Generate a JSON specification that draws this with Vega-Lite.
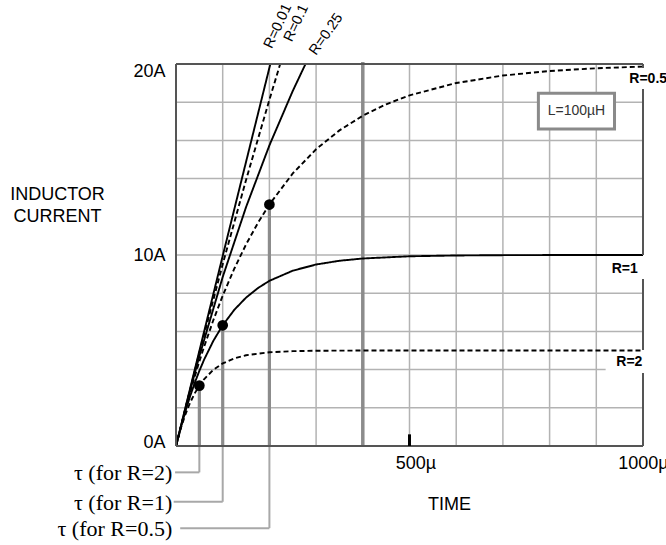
{
  "$schema": "https://vega.github.io/schema/vega-lite/v6.json",
  "width": 467,
  "height": 382,
  "autosize": {"type": "none"},
  "padding": {"left": 176, "top": 64, "right": 23, "bottom": 99},
  "background": "white",
  "config": {"view": {"stroke": null}},
  "datasets": {
    "curves": [
      {"R": "0.01", "t": 0, "I": 0}, {"R": "0.01", "t": 100, "I": 9.95}, {"R": "0.01", "t": 202, "I": 20},
      {"R": "0.1", "t": 0, "I": 0}, {"R": "0.1", "t": 50, "I": 4.877}, {"R": "0.1", "t": 100, "I": 9.516}, {"R": "0.1", "t": 150, "I": 13.929}, {"R": "0.1", "t": 200, "I": 18.127}, {"R": "0.1", "t": 223.1, "I": 20},
      {"R": "0.25", "t": 0, "I": 0}, {"R": "0.25", "t": 25, "I": 2.424}, {"R": "0.25", "t": 50, "I": 4.7}, {"R": "0.25", "t": 100, "I": 8.848}, {"R": "0.25", "t": 150, "I": 12.508}, {"R": "0.25", "t": 200, "I": 15.739}, {"R": "0.25", "t": 250, "I": 18.588}, {"R": "0.25", "t": 277.3, "I": 20},
      {"R": "0.5", "t": 0, "I": 0}, {"R": "0.5", "t": 10, "I": 0.975}, {"R": "0.5", "t": 20, "I": 1.903}, {"R": "0.5", "t": 30, "I": 2.786}, {"R": "0.5", "t": 40, "I": 3.625}, {"R": "0.5", "t": 50, "I": 4.424}, {"R": "0.5", "t": 60, "I": 5.184}, {"R": "0.5", "t": 80, "I": 6.594}, {"R": "0.5", "t": 100, "I": 7.869}, {"R": "0.5", "t": 125, "I": 9.294}, {"R": "0.5", "t": 150, "I": 10.553}, {"R": "0.5", "t": 175, "I": 11.662}, {"R": "0.5", "t": 200, "I": 12.642}, {"R": "0.5", "t": 250, "I": 14.27}, {"R": "0.5", "t": 300, "I": 15.538}, {"R": "0.5", "t": 350, "I": 16.524}, {"R": "0.5", "t": 400, "I": 17.293}, {"R": "0.5", "t": 450, "I": 17.892}, {"R": "0.5", "t": 500, "I": 18.358}, {"R": "0.5", "t": 600, "I": 19.004}, {"R": "0.5", "t": 700, "I": 19.396}, {"R": "0.5", "t": 800, "I": 19.634}, {"R": "0.5", "t": 900, "I": 19.778}, {"R": "0.5", "t": 1000, "I": 19.865},
      {"R": "1", "t": 0, "I": 0}, {"R": "1", "t": 10, "I": 0.952}, {"R": "1", "t": 20, "I": 1.813}, {"R": "1", "t": 30, "I": 2.592}, {"R": "1", "t": 40, "I": 3.297}, {"R": "1", "t": 50, "I": 3.935}, {"R": "1", "t": 60, "I": 4.512}, {"R": "1", "t": 80, "I": 5.507}, {"R": "1", "t": 100, "I": 6.321}, {"R": "1", "t": 125, "I": 7.135}, {"R": "1", "t": 150, "I": 7.769}, {"R": "1", "t": 175, "I": 8.262}, {"R": "1", "t": 200, "I": 8.647}, {"R": "1", "t": 250, "I": 9.179}, {"R": "1", "t": 300, "I": 9.502}, {"R": "1", "t": 350, "I": 9.698}, {"R": "1", "t": 400, "I": 9.817}, {"R": "1", "t": 500, "I": 9.933}, {"R": "1", "t": 600, "I": 9.975}, {"R": "1", "t": 700, "I": 9.991}, {"R": "1", "t": 800, "I": 9.997}, {"R": "1", "t": 1000, "I": 10},
      {"R": "2", "t": 0, "I": 0}, {"R": "2", "t": 10, "I": 0.906}, {"R": "2", "t": 20, "I": 1.648}, {"R": "2", "t": 30, "I": 2.256}, {"R": "2", "t": 40, "I": 2.753}, {"R": "2", "t": 50, "I": 3.161}, {"R": "2", "t": 60, "I": 3.494}, {"R": "2", "t": 80, "I": 3.991}, {"R": "2", "t": 100, "I": 4.323}, {"R": "2", "t": 125, "I": 4.59}, {"R": "2", "t": 150, "I": 4.751}, {"R": "2", "t": 200, "I": 4.908}, {"R": "2", "t": 250, "I": 4.966}, {"R": "2", "t": 300, "I": 4.988}, {"R": "2", "t": 400, "I": 4.998}, {"R": "2", "t": 600, "I": 5}, {"R": "2", "t": 800, "I": 5}, {"R": "2", "t": 1000, "I": 5}
    ],
    "gridV": [{"t": 100}, {"t": 200}, {"t": 300}, {"t": 500}, {"t": 600}, {"t": 700}, {"t": 800}, {"t": 900}],
    "gridH": [{"I": 2, "t2": 1000}, {"I": 4, "t2": 920}, {"I": 6, "t2": 1000}, {"I": 8, "t2": 1000}, {"I": 10, "t2": 1000}, {"I": 12, "t2": 1000}, {"I": 14, "t2": 1000}, {"I": 16, "t2": 1000}, {"I": 18, "t2": 1000}],
    "border": [
      {"t": 0, "t2": 0, "I": 0, "I2": 20},
      {"t": 0, "t2": 1000, "I": 20, "I2": 20},
      {"t": 0, "t2": 1000, "I": 0, "I2": 0},
      {"t": 1000, "t2": 1000, "I": 0, "I2": 3.82},
      {"t": 1000, "t2": 1000, "I": 5.03, "I2": 8.74},
      {"t": 1000, "t2": 1000, "I": 10, "I2": 18.69},
      {"t": 1000, "t2": 1000, "I": 19.79, "I2": 20}
    ],
    "tau": [
      {"label": "τ (for R=2)", "t": 50, "I": 3.161, "yLab": -1.38, "xLab": -8, "xCon": -2},
      {"label": "τ (for R=1)", "t": 100, "I": 6.321, "yLab": -2.92, "xLab": -8, "xCon": -5},
      {"label": "τ (for R=0.5)", "t": 200, "I": 12.642, "yLab": -4.3, "xLab": -8, "xCon": 9}
    ],
    "toplabels": [
      {"label": "R=0.01", "t": 205, "I": 20.77},
      {"label": "R=0.1", "t": 248, "I": 21.12},
      {"label": "R=0.25", "t": 300, "I": 20.42}
    ],
    "rlabels": [
      {"label": "R=0.5", "t": 970.7, "I": 19.02},
      {"label": "R=1", "t": 932.9, "I": 9.07},
      {"label": "R=2", "t": 942.8, "I": 4.19}
    ],
    "box": [{"label": "L=100µH", "t1": 776, "t2": 939, "I1": 16.6, "I2": 18.47, "tc": 857.5, "Ic": 17.53}]
  },
  "layer": [
    {
      "data": {"name": "curves"},
      "mark": {"type": "line", "color": "#000", "strokeWidth": 1.8, "opacity": 0},
      "encoding": {
        "x": {
          "field": "t", "type": "quantitative",
          "scale": {"domain": [0, 1000], "nice": false, "zero": false},
          "axis": {
            "values": [500, 1000],
            "labelExpr": "datum.value + 'µ'",
            "grid": false, "domain": false, "ticks": false, "tickSize": 0,
            "labelFlush": false,
            "labelPadding": 22,
            "labelBaseline": "alphabetic",
            "labelFont": "Liberation Sans", "labelFontSize": 18, "labelColor": "#000",
            "labelOffset": {"condition": {"test": "datum.value == 500", "value": 6}, "value": 0},
            "title": "TIME",
            "titleX": 273, "titleY": 63,
            "titleAlign": "center", "titleBaseline": "alphabetic",
            "titleFont": "Liberation Sans", "titleFontSize": 18, "titleFontWeight": "normal", "titleColor": "#000"
          }
        },
        "y": {
          "field": "I", "type": "quantitative",
          "scale": {"domain": [0, 20], "nice": false, "zero": false},
          "axis": {
            "values": [0, 10, 20],
            "labelExpr": "datum.value + 'A'",
            "grid": false, "domain": false, "ticks": false, "tickSize": 0,
            "labelPadding": 11,
            "labelBaseline": "middle",
            "labelFont": "Liberation Sans", "labelFontSize": 18, "labelColor": "#000",
            "labelOffset": {"condition": [{"test": "datum.value == 0", "value": -4}, {"test": "datum.value == 20", "value": 7}], "value": 0},
            "title": ["INDUCTOR", "CURRENT"],
            "titleAngle": 0,
            "titleX": -119, "titleY": 135,
            "titleAlign": "center", "titleBaseline": "alphabetic",
            "titleLineHeight": 22,
            "titleFont": "Liberation Sans", "titleFontSize": 18, "titleFontWeight": "normal", "titleColor": "#000"
          }
        },
        "detail": {"field": "R", "type": "nominal"}
      }
    },
    {
      "data": {"name": "gridV"},
      "mark": {"type": "rule", "color": "#b3b3b3", "strokeWidth": 1.5},
      "encoding": {
        "x": {"field": "t", "type": "quantitative"},
        "y": {"datum": 0, "type": "quantitative"},
        "y2": {"datum": 20}
      }
    },
    {
      "data": {"name": "gridH"},
      "mark": {"type": "rule", "color": "#b3b3b3", "strokeWidth": 1.5},
      "encoding": {
        "x": {"field": "t2", "type": "quantitative"},
        "x2": {"datum": 0},
        "y": {"field": "I", "type": "quantitative"}
      }
    },
    {
      "data": {"values": [{"t": 400}]},
      "mark": {"type": "rule", "color": "#8c8c8c", "strokeWidth": 3.5},
      "encoding": {
        "x": {"field": "t", "type": "quantitative"},
        "y": {"datum": 0, "type": "quantitative"},
        "y2": {"datum": 20.1}
      }
    },
    {
      "data": {"name": "tau"},
      "mark": {"type": "rule", "color": "#a8a8a8", "strokeWidth": 2},
      "encoding": {
        "x": {"field": "t", "type": "quantitative"},
        "y": {"field": "yLab", "type": "quantitative"},
        "y2": {"datum": 0}
      }
    },
    {
      "data": {"name": "tau"},
      "mark": {"type": "rule", "color": "#a8a8a8", "strokeWidth": 2},
      "encoding": {
        "x": {"field": "xCon", "type": "quantitative"},
        "x2": {"field": "t"},
        "y": {"field": "yLab", "type": "quantitative"}
      }
    },
    {
      "data": {"name": "tau"},
      "mark": {"type": "rule", "color": "#8c8c8c", "strokeWidth": 3.2},
      "encoding": {
        "x": {"field": "t", "type": "quantitative"},
        "y": {"field": "I", "type": "quantitative"},
        "y2": {"datum": 0}
      }
    },
    {
      "data": {"name": "tau"},
      "mark": {"type": "text", "align": "right", "baseline": "middle", "dy": 1, "font": "Liberation Serif", "fontSize": 22, "color": "#000"},
      "encoding": {
        "x": {"field": "xLab", "type": "quantitative"},
        "y": {"field": "yLab", "type": "quantitative"},
        "text": {"field": "label", "type": "nominal"}
      }
    },
    {
      "data": {"name": "curves"},
      "mark": {"type": "line", "color": "#000", "strokeWidth": 1.9},
      "encoding": {
        "x": {"field": "t", "type": "quantitative"},
        "y": {"field": "I", "type": "quantitative"},
        "detail": {"field": "R", "type": "nominal"},
        "strokeDash": {
          "field": "R", "type": "nominal", "legend": null,
          "scale": {"domain": ["0.01", "0.1", "0.25", "0.5", "1", "2"], "range": [[1, 0], [5, 3], [1, 0], [5, 3], [1, 0], [5, 3]]}
        }
      }
    },
    {
      "data": {"name": "tau"},
      "mark": {"type": "circle", "color": "#000", "opacity": 1, "size": 115},
      "encoding": {
        "x": {"field": "t", "type": "quantitative"},
        "y": {"field": "I", "type": "quantitative"}
      }
    },
    {
      "data": {"name": "border"},
      "mark": {"type": "rule", "color": "#555", "strokeWidth": 2},
      "encoding": {
        "x": {"field": "t", "type": "quantitative"},
        "x2": {"field": "t2"},
        "y": {"field": "I", "type": "quantitative"},
        "y2": {"field": "I2"}
      }
    },
    {
      "data": {"values": [{"t": 500, "I": 0, "I2": 0.61}]},
      "mark": {"type": "rule", "color": "#000", "strokeWidth": 3},
      "encoding": {
        "x": {"field": "t", "type": "quantitative"},
        "y": {"field": "I", "type": "quantitative"},
        "y2": {"field": "I2"}
      }
    },
    {
      "data": {"name": "toplabels"},
      "transform": [{"filter": "datum.label != 'R=0.25'"}],
      "mark": {"type": "text", "align": "left", "baseline": "alphabetic", "angle": 295, "font": "Liberation Sans", "fontSize": 14.5, "color": "#000"},
      "encoding": {
        "x": {"field": "t", "type": "quantitative"},
        "y": {"field": "I", "type": "quantitative"},
        "text": {"field": "label", "type": "nominal"}
      }
    },
    {
      "data": {"name": "toplabels"},
      "transform": [{"filter": "datum.label == 'R=0.25'"}],
      "mark": {"type": "text", "align": "left", "baseline": "alphabetic", "angle": 305, "font": "Liberation Sans", "fontSize": 14.5, "color": "#000"},
      "encoding": {
        "x": {"field": "t", "type": "quantitative"},
        "y": {"field": "I", "type": "quantitative"},
        "text": {"field": "label", "type": "nominal"}
      }
    },
    {
      "data": {"name": "rlabels"},
      "mark": {"type": "text", "align": "left", "baseline": "alphabetic", "font": "Liberation Sans", "fontSize": 14, "fontWeight": "bold", "color": "#000"},
      "encoding": {
        "x": {"field": "t", "type": "quantitative"},
        "y": {"field": "I", "type": "quantitative"},
        "text": {"field": "label", "type": "nominal"}
      }
    },
    {
      "data": {"name": "box"},
      "mark": {"type": "rect", "fill": "#fff", "stroke": "#8a8a8a", "strokeWidth": 3},
      "encoding": {
        "x": {"field": "t1", "type": "quantitative"},
        "x2": {"field": "t2"},
        "y": {"field": "I1", "type": "quantitative"},
        "y2": {"field": "I2"}
      }
    },
    {
      "data": {"name": "box"},
      "mark": {"type": "text", "align": "center", "baseline": "middle", "font": "Liberation Sans", "fontSize": 14, "color": "#333"},
      "encoding": {
        "x": {"field": "tc", "type": "quantitative"},
        "y": {"field": "Ic", "type": "quantitative"},
        "text": {"field": "label", "type": "nominal"}
      }
    }
  ]
}
